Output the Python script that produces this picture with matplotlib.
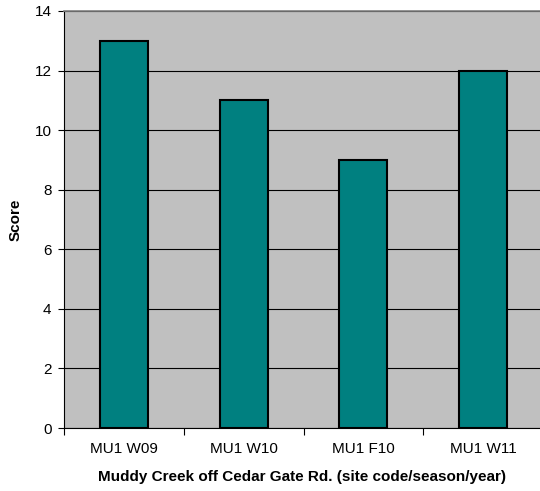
import matplotlib
matplotlib.use("Agg")
import matplotlib.pyplot as plt

# data
sites = ["MU1 W09", "MU1 W10", "MU1 F10", "MU1 W11"]
scores = [13, 11, 9, 12]
yticks = [0, 2, 4, 6, 8, 10, 12, 14]

plt.rcParams['font.family'] = ['Liberation Sans', 'DejaVu Sans']

fig = plt.figure(figsize=(5.4, 4.91), dpi=100)
ax = fig.add_axes([64 / 540, 63 / 491, 479 / 540, 417 / 491])
ax.set_facecolor('#C0C0C0')

x = list(range(len(sites)))
ax.bar(x, scores, width=0.4, color='#008080', edgecolor='black',
       linewidth=1.5, zorder=3)

ax.set_xlim(-0.5, len(sites) - 0.5)
ax.set_ylim(0, 14)
ax.set_yticks(yticks)
ax.yaxis.grid(True, color='black', linewidth=0.8, zorder=1)
ax.set_axisbelow(True)

# category labels centred, tick marks between categories
ax.set_xticks(x)
ax.set_xticklabels(sites, fontsize=11)
ax.tick_params(axis='x', which='major', length=0, pad=10)
ax.set_xticks([i - 0.5 for i in range(len(sites) + 1)], minor=True)
ax.tick_params(axis='x', which='minor', length=5, width=0.8, direction='out')
ax.tick_params(axis='y', length=4, width=0.8, labelsize=11, pad=5)

ax.spines['top'].set_color('#808080')
ax.spines['top'].set_linewidth(1.2)
ax.spines['right'].set_visible(False)
ax.spines['left'].set_linewidth(0.8)
ax.spines['bottom'].set_linewidth(0.8)

ax.set_ylabel('Score', fontsize=11, fontweight='bold')
ax.yaxis.set_label_coords(-41 / 479, 0.5)
ax.set_xlabel('Muddy Creek off Cedar Gate Rd. (site code/season/year)',
              fontsize=11, fontweight='bold')
ax.xaxis.set_label_coords(238 / 479, -42 / 417)

fig.savefig('out.png', dpi=100, facecolor='white')
